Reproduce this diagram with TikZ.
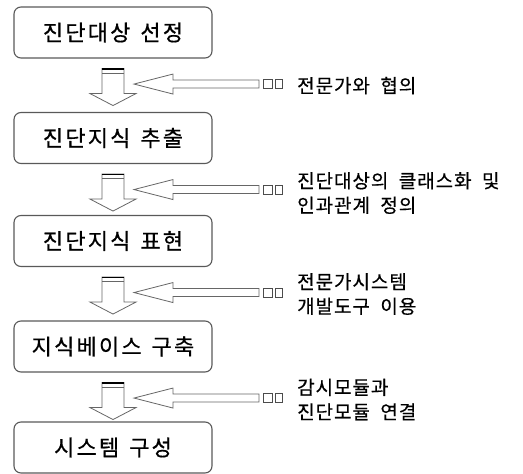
\documentclass[tikz,border=0pt]{standalone}
\usepackage{fontspec}
\newfontfamily\krbox[WordSpace=1.4,LetterSpace=10,FakeBold=0.6]{Noto Sans CJK KR}
\newfontfamily\krside[WordSpace=2.0,LetterSpace=5,FakeBold=0.4]{Noto Sans CJK KR}
\begin{document}
\begin{tikzpicture}[x=1pt,y=-1pt,
  stepbox/.style={draw=black!65, line width=1.1pt, rounded corners=7pt,
    minimum width=198pt, minimum height=51pt, inner sep=0pt,
    font=\krbox\fontsize{22}{26}\selectfont},
  sidetext/.style={anchor=west, align=left, inner sep=0pt,
    font=\krside\fontsize{19}{24.5}\selectfont},
  blockline/.style={draw=black!60, line width=0.8pt, fill=white, line join=miter}]
\useasboundingbox (0,0) rectangle (523,474);

\node[stepbox] (b1) at (113,32.5) {진단대상 선정};
\node[stepbox] (b2) at (113,138) {진단지식 추출};
\node[stepbox] (b3) at (113,241) {진단지식 표현};
\node[stepbox] (b4) at (113,346.5) {지식베이스 구축};
\node[stepbox] (b5) at (113,447.5) {시스템 구성};

\foreach \a/\b/\t/\dy in {b1/b2/{전문가와 협의}/27,
                      b2/b3/{진단대상의 클래스화 및\\인과관계 정의}/29,
                      b3/b4/{전문가시스템\\개발도구 이용}/27,
                      b4/b5/{감시모듈과\\진단모듈 연결}/27}{
  \begin{scope}[shift={(\a.south)}]
    % down block arrow toward the next box
    \path[blockline] (-11,10) -- (-11,35) -- (-23,35) -- (0,47) -- (23,35)
      -- (11,35) -- (11,10) -- cycle;
    \draw[black, line width=1.8pt] (-11,10.5) -- (11,10.5);
    \draw[black!60, line width=0.7pt] (-11,14.5) -- (11,14.5);
    % left block arrow from the note
    \path[blockline] (21,25.5) -- (60,15.5) -- (60,21.5) -- (146,21.5)
      -- (146,29.5) -- (60,29.5) -- (60,35.5) -- cycle;
    \draw[black!70, line width=0.7pt] (150,21) rectangle (159,30);
    \draw[black!70, line width=0.7pt] (162,21) rectangle (169,30);
    \node[sidetext] (n-\a) at (184,\dy) {\t};
  \end{scope}
}
\end{tikzpicture}
\end{document}
